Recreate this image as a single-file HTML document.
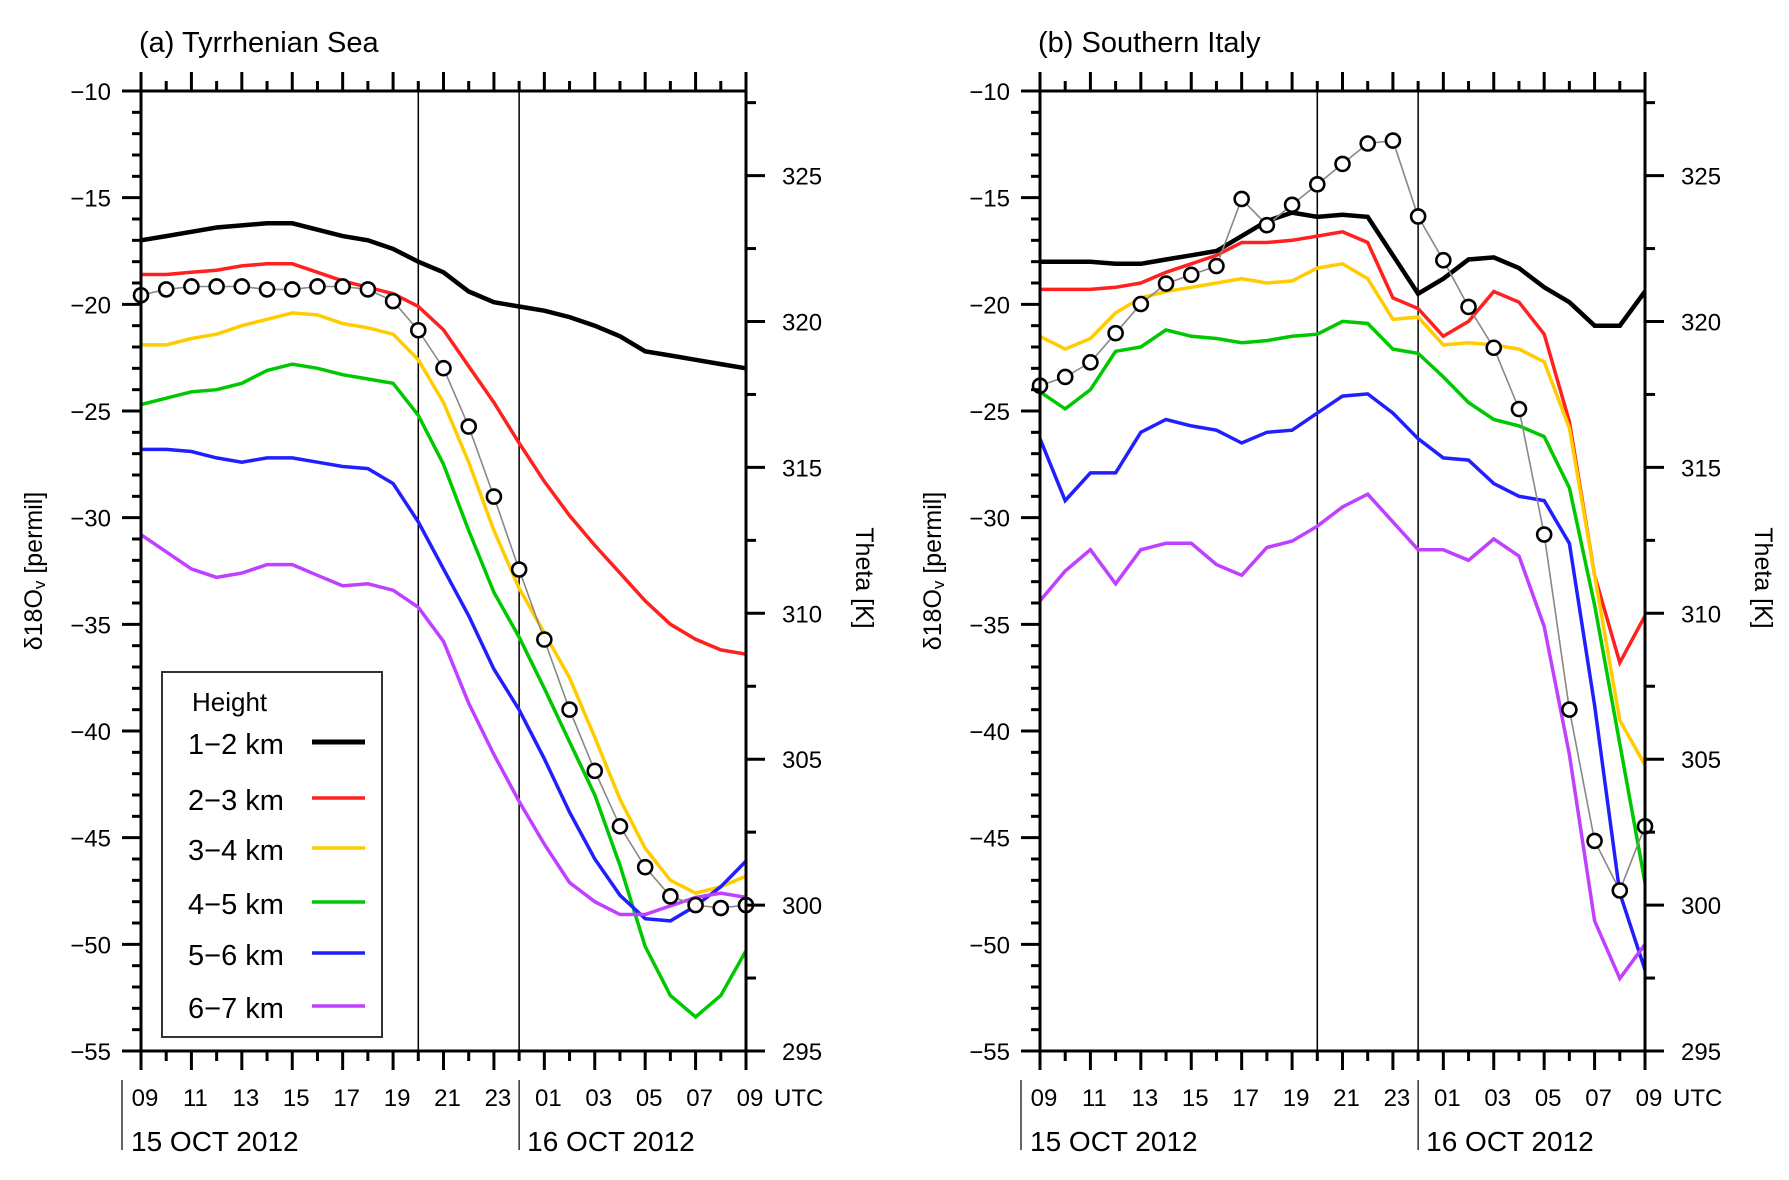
<!DOCTYPE html>
<html><head><meta charset="utf-8"><style>
html,body{margin:0;padding:0;background:#fff;}
svg text{font-family:"Liberation Sans",sans-serif;fill:#000;}
</style></head><body>
<svg id="chart" width="1789" height="1175" viewBox="0 0 1789 1175" xmlns="http://www.w3.org/2000/svg"></svg>
<script>
// ---- data ----
const hourLabels = ["09","11","13","15","17","19","21","23","01","03","05","07","09"];
const seriesNames = ["1-2 km","2-3 km","3-4 km","4-5 km","5-6 km","6-7 km"];
const seriesColors = ["#000000","#ff2020","#ffcc00","#00c800","#2020ff","#c040ff"];
const yTicks = [-10,-15,-20,-25,-30,-35,-40,-45,-50,-55];
const thetaTicks = [295,300,305,310,315,320,325];

// Panel (a) Tyrrhenian Sea, hourly 09 UTC 15 Oct .. 09 UTC 16 Oct
const aBlack  = [-17.0,-16.8,-16.6,-16.4,-16.3,-16.2,-16.2,-16.5,-16.8,-17.0,-17.4,-18.0,-18.5,-19.4,-19.9,-20.1,-20.3,-20.6,-21.0,-21.5,-22.2,-22.4,-22.6,-22.8,-23.0];
const aRed    = [-18.6,-18.6,-18.5,-18.4,-18.2,-18.1,-18.1,-18.5,-18.9,-19.2,-19.5,-20.1,-21.2,-22.9,-24.6,-26.5,-28.3,-29.9,-31.3,-32.6,-33.9,-35.0,-35.7,-36.2,-36.4];
const aYellow = [-21.9,-21.9,-21.6,-21.4,-21.0,-20.7,-20.4,-20.5,-20.9,-21.1,-21.4,-22.6,-24.6,-27.4,-30.6,-33.3,-35.4,-37.5,-40.3,-43.2,-45.5,-47.0,-47.6,-47.3,-46.8];
const aGreen  = [-24.7,-24.4,-24.1,-24.0,-23.7,-23.1,-22.8,-23.0,-23.3,-23.5,-23.7,-25.2,-27.5,-30.6,-33.5,-35.6,-38.0,-40.5,-43.0,-46.3,-50.1,-52.4,-53.4,-52.4,-50.3];
const aBlue   = [-26.8,-26.8,-26.9,-27.2,-27.4,-27.2,-27.2,-27.4,-27.6,-27.7,-28.4,-30.2,-32.4,-34.6,-37.1,-39.0,-41.3,-43.8,-46.0,-47.7,-48.8,-48.9,-48.2,-47.3,-46.1];
const aPurple = [-30.8,-31.6,-32.4,-32.8,-32.6,-32.2,-32.2,-32.7,-33.2,-33.1,-33.4,-34.2,-35.8,-38.7,-41.1,-43.3,-45.3,-47.1,-48.0,-48.6,-48.6,-48.2,-47.8,-47.6,-47.8];
const aTheta  = [320.9,321.1,321.2,321.2,321.2,321.1,321.1,321.2,321.2,321.1,320.7,319.7,318.4,316.4,314.0,311.5,309.1,306.7,304.6,302.7,301.3,300.3,300.0,299.9,300.0];

// Panel (b) Southern Italy
const bBlack  = [-18.0,-18.0,-18.0,-18.1,-18.1,-17.9,-17.7,-17.5,-16.8,-16.1,-15.7,-15.9,-15.8,-15.9,-17.7,-19.5,-18.8,-17.9,-17.8,-18.3,-19.2,-19.9,-21.0,-21.0,-19.4];
const bRed    = [-19.3,-19.3,-19.3,-19.2,-19.0,-18.5,-18.1,-17.7,-17.1,-17.1,-17.0,-16.8,-16.6,-17.1,-19.7,-20.2,-21.5,-20.8,-19.4,-19.9,-21.4,-25.5,-32.7,-36.8,-34.6];
const bYellow = [-21.5,-22.1,-21.6,-20.4,-19.7,-19.4,-19.2,-19.0,-18.8,-19.0,-18.9,-18.3,-18.1,-18.8,-20.7,-20.6,-21.9,-21.8,-21.9,-22.1,-22.7,-25.8,-32.7,-39.5,-41.6];
const bGreen  = [-24.1,-24.9,-24.0,-22.2,-22.0,-21.2,-21.5,-21.6,-21.8,-21.7,-21.5,-21.4,-20.8,-20.9,-22.1,-22.3,-23.4,-24.6,-25.4,-25.7,-26.2,-28.6,-34.1,-40.6,-47.1];
const bBlue   = [-26.3,-29.2,-27.9,-27.9,-26.0,-25.4,-25.7,-25.9,-26.5,-26.0,-25.9,-25.1,-24.3,-24.2,-25.1,-26.3,-27.2,-27.3,-28.4,-29.0,-29.2,-31.2,-38.8,-47.6,-51.2];
const bPurple = [-33.9,-32.5,-31.5,-33.1,-31.5,-31.2,-31.2,-32.2,-32.7,-31.4,-31.1,-30.4,-29.5,-28.9,-30.2,-31.5,-31.5,-32.0,-31.0,-31.8,-35.1,-41.1,-48.9,-51.6,-50.0];
const bTheta  = [317.8,318.1,318.6,319.6,320.6,321.3,321.6,321.9,324.2,323.3,324.0,324.7,325.4,326.1,326.2,323.6,322.1,320.5,319.1,317.0,312.7,306.7,302.2,300.5,302.7];

// ---- drawing ----
const svg = document.getElementById('chart');
const NS = 'http://www.w3.org/2000/svg';
function mk(tag, attrs, parent){
  const e = document.createElementNS(NS, tag);
  for (const k in attrs) e.setAttribute(k, attrs[k]);
  (parent||svg).appendChild(e);
  return e;
}
const W = 605, TOP = 91, BOT = 1051;
function yv(v){ return TOP + (-10 - v) / 45 * (BOT - TOP); }
function yt(t){ return BOT - (t - 295) * 29.18; }

function panel(px, title, series, theta, showLegend, id){
  const g = mk('g', {});
  
  
  const xh = h => px + h * W / 24;

  const t = mk('text', {x: px - 2, y: 52, 'font-size': 29}, g);
  t.textContent = title;
  
  

  [11, 15].forEach(h => {
    const l = mk('line', {x1: xh(h), x2: xh(h), y1: TOP, y2: BOT, stroke: '#000', 'stroke-width': 1.5}, g);
    
    
  });

  series.forEach((s, i) => {
    const pts = s.map((v, h) => xh(h).toFixed(1) + ',' + yv(v).toFixed(1)).join(' ');
    const pl = mk('polyline', {points: pts, fill: 'none', stroke: seriesColors[i], 'stroke-width': i === 0 ? 4.5 : 3.5, 'stroke-linejoin': 'miter'}, g);
    
    
  });

  const tp = theta.map((v, h) => xh(h).toFixed(1) + ',' + yt(v).toFixed(1)).join(' ');
  const tl = mk('polyline', {points: tp, fill: 'none', stroke: '#888', 'stroke-width': 1.6}, g);
  
  
  theta.forEach((v, h) => {
    const c = mk('circle', {cx: xh(h), cy: yt(v), r: 7, fill: '#fff', stroke: '#000', 'stroke-width': 2.6}, g);
    
    
  });

  [[px, TOP, px, BOT], [px + W, TOP, px + W, BOT], [px, TOP, px + W, TOP], [px, BOT, px + W, BOT]].forEach(a => {
    const l = mk('line', {x1: a[0], y1: a[1], x2: a[2], y2: a[3], stroke: '#000', 'stroke-width': 3}, g);
    
    
  });

  for (let v = -10; v >= -55; v--) {
    const major = v % 5 === 0;
    mk('line', {x1: px - (major ? 19 : 9), x2: px, y1: yv(v), y2: yv(v), stroke: '#000', 'stroke-width': 3}, g);
  }
  yTicks.forEach(v => {
    const tx = mk('text', {x: px - 30, y: yv(v) + 9, 'font-size': 24, 'text-anchor': 'end'}, g);
    tx.textContent = '\u2212' + Math.abs(v);
    
    
  });
  for (let k = 0; k <= 13; k++) {
    const tv = 295 + k * 2.5;
    if (yt(tv) < TOP) break;
    const major = k % 2 === 0;
    mk('line', {x1: px + W, x2: px + W + (major ? 19 : 10), y1: yt(tv), y2: yt(tv), stroke: '#000', 'stroke-width': 3}, g);
  }
  thetaTicks.forEach(tv => {
    const tx = mk('text', {x: px + W + 36, y: yt(tv) + 9, 'font-size': 24}, g);
    tx.textContent = tv;
    
    
  });
  for (let h = 0; h <= 24; h++) {
    const major = h % 2 === 0;
    mk('line', {x1: xh(h), x2: xh(h), y1: TOP - (major ? 19 : 10), y2: TOP, stroke: '#000', 'stroke-width': 3}, g);
    mk('line', {x1: xh(h), x2: xh(h), y1: BOT, y2: BOT + (major ? 19 : 10), stroke: '#000', 'stroke-width': 3}, g);
  }
  hourLabels.forEach((lab, i) => {
    const tx = mk('text', {x: xh(i * 2) + 4, y: 1106, 'font-size': 24, 'text-anchor': 'middle'}, g);
    tx.textContent = lab;
    
    
  });
  const utc = mk('text', {x: px + W + 28, y: 1106, 'font-size': 24}, g);
  utc.textContent = 'UTC';
  
  
  [px - 19, xh(15)].forEach(x => mk('line', {x1: x, x2: x, y1: 1080, y2: 1150, stroke: '#000', 'stroke-width': 1.2}, g));
  const d1 = mk('text', {x: px - 10, y: 1151, 'font-size': 28}, g);
  d1.textContent = '15 OCT 2012';
  
  
  const d2 = mk('text', {x: xh(15) + 8, y: 1151, 'font-size': 28}, g);
  d2.textContent = '16 OCT 2012';
  
  

  const yl = mk('text', {x: 0, y: 0, 'font-size': 25, 'text-anchor': 'middle', transform: `translate(${px - 99},571) rotate(-90)`}, g);
  yl.innerHTML = '\u03b418O<tspan font-size="17" dy="3">v</tspan><tspan dy="-3"> [permil]</tspan>';
  
  
  const tl2 = mk('text', {x: 0, y: 0, 'font-size': 25, 'text-anchor': 'middle', transform: `translate(${px + W + 110},578) rotate(90)`}, g);
  tl2.textContent = 'Theta [K]';
  
  

  if (showLegend) {
    const lg = mk('g', {}, g);
    
    
    mk('rect', {x: 162, y: 672, width: 220, height: 365, fill: '#fff', stroke: '#333', 'stroke-width': 2}, lg);
    const ht = mk('text', {x: 192, y: 711, 'font-size': 26}, lg);
    ht.textContent = 'Height';
    const rowsY = [742, 798, 848, 902, 953, 1006];
    seriesNames.forEach((n, i) => {
      const tx = mk('text', {x: 188, y: rowsY[i] + 12, 'font-size': 29}, lg);
      tx.textContent = n.replace('-', '\u2212');
      
      
      mk('line', {x1: 312, x2: 365, y1: rowsY[i], y2: rowsY[i], stroke: seriesColors[i], 'stroke-width': i === 0 ? 5 : 3.5}, lg);
    });
  }
}
panel(141, '(a) Tyrrhenian Sea', [aBlack, aRed, aYellow, aGreen, aBlue, aPurple], aTheta, true, 'a');
panel(1040, '(b) Southern Italy', [bBlack, bRed, bYellow, bGreen, bBlue, bPurple], bTheta, false, 'b');
</script>
</body></html>
